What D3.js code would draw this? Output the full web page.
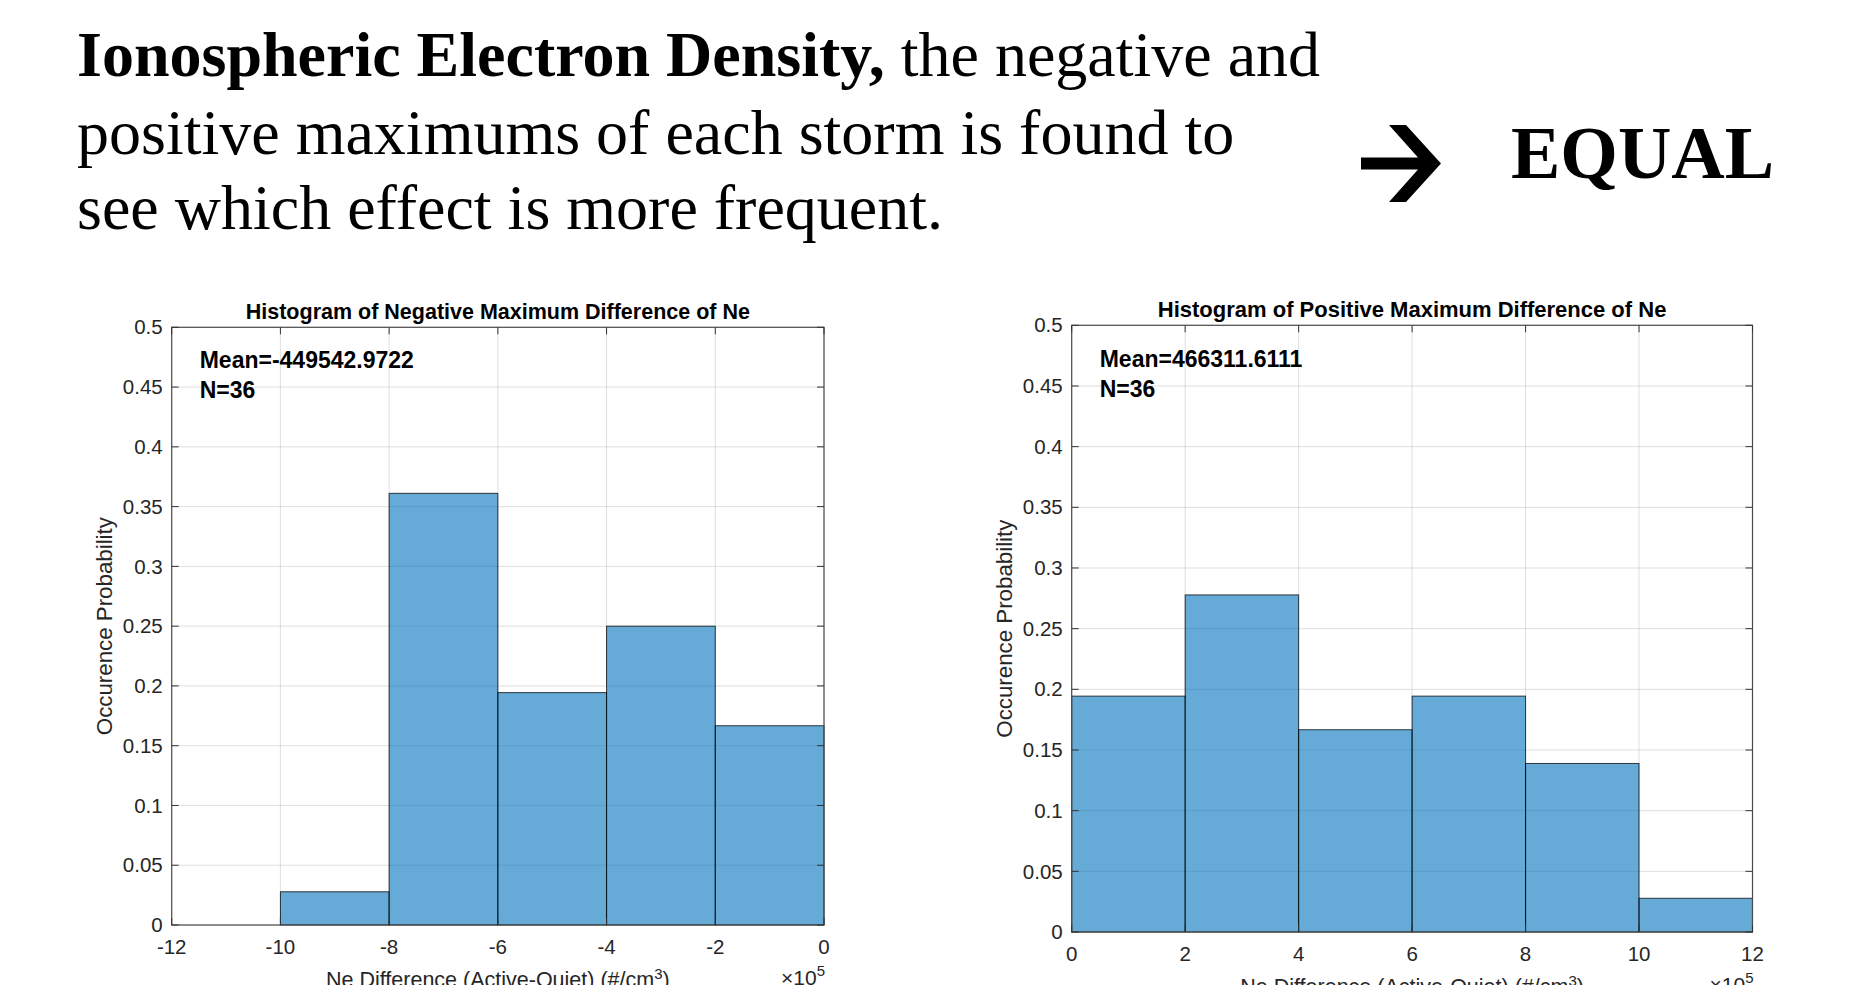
<!DOCTYPE html>
<html>
<head>
<meta charset="utf-8">
<script src="https://cdn.jsdelivr.net/npm/d3@7"></script>
<style>
  html, body { margin: 0; padding: 0; background: #fff; }
  svg { display: block; }
</style>
</head>
<body>
<script>
// ---------------- DATA ----------------
const headingBold = "Ionospheric Electron Density,";
const headingLines = [" the negative and", "positive maximums of each storm is found to", "see which effect is more frequent."];
const verdict = "EQUAL";

const negTitle = "Histogram of Negative Maximum Difference of Ne";
const negBinEdges = [-12, -10, -8, -6, -4, -2, 0];
const negProb = [0, 0.0278, 0.3611, 0.1944, 0.25, 0.1667];
const negXTicks = [-12, -10, -8, -6, -4, -2, 0];
const negMean = "Mean=-449542.9722";
const negN = "N=36";

const posTitle = "Histogram of Positive Maximum Difference of Ne";
const posBinEdges = [0, 2, 4, 6, 8, 10, 12];
const posProb = [0.1944, 0.2778, 0.1667, 0.1944, 0.1389, 0.0278];
const posXTicks = [0, 2, 4, 6, 8, 10, 12];
const posMean = "Mean=466311.6111";
const posN = "N=36";

const yTicks = [0, 0.05, 0.1, 0.15, 0.2, 0.25, 0.3, 0.35, 0.4, 0.45, 0.5];
const yTickLabels = ["0", "0.05", "0.1", "0.15", "0.2", "0.25", "0.3", "0.35", "0.4", "0.45", "0.5"];
const yLabel = "Occurence Probability";
const xLabel = "Ne Difference (Active-Quiet) (#/cm";

// ---------------- DRAW ----------------
const W = 1863, H = 985;
const svg = d3.select("body").append("svg").attr("width", W).attr("height", H);
svg.append("rect").attr("width", W).attr("height", H).attr("fill", "#fff");

const serif = "'Liberation Serif', 'Times New Roman', serif";
const sans = "'Liberation Sans', Arial, sans-serif";

// heading text
const hFs = 64;
const h1 = svg.append("text").attr("x", 77).attr("y", 76)
  .attr("font-family", serif).attr("font-size", hFs).attr("fill", "#000");
h1.append("tspan").attr("font-weight", "bold").text(headingBold);
h1.append("tspan").text(headingLines[0]);
svg.append("text").attr("x", 77).attr("y", 154)
  .attr("font-family", serif).attr("font-size", hFs).attr("fill", "#000").text(headingLines[1]);
svg.append("text").attr("x", 77).attr("y", 229)
  .attr("font-family", serif).attr("font-size", hFs).attr("fill", "#000").text(headingLines[2]);

// arrow (graphic)
svg.append("path")
  .attr("d", "M1361,157.6 L1418,157.6 L1389,125 L1406,125 L1441,163.5 L1406,202 L1389,202 L1418,169.4 L1361,169.4 Z")
  .attr("fill", "#000");

svg.append("text").attr("x", 1511).attr("y", 178)
  .attr("font-family", serif).attr("font-size", 74).attr("font-weight", "bold")
  .attr("fill", "#000").text(verdict);

function drawHist(o) {
  const x = d3.scaleLinear().domain(o.xDomain).range([o.x0, o.x1]);
  const y = d3.scaleLinear().domain([0, 0.5]).range([o.yBot, o.yTop]);
  const g = svg.append("g");
  const tc = "#262626";

  // grid
  g.append("g").selectAll("line").data(o.xTicks).join("line")
    .attr("x1", d => x(d)).attr("x2", d => x(d)).attr("y1", o.yTop).attr("y2", o.yBot)
    .attr("stroke", tc).attr("stroke-opacity", 0.15).attr("stroke-width", 1);
  g.append("g").selectAll("line").data(yTicks).join("line")
    .attr("x1", o.x0).attr("x2", o.x1).attr("y1", d => y(d)).attr("y2", d => y(d))
    .attr("stroke", tc).attr("stroke-opacity", 0.15).attr("stroke-width", 1);

  // bars
  const bins = o.prob.map((v, i) => ({ a: o.edges[i], b: o.edges[i + 1], v }));
  g.append("g").selectAll("rect").data(bins).join("rect")
    .attr("x", d => x(d.a)).attr("width", d => x(d.b) - x(d.a))
    .attr("y", d => y(d.v)).attr("height", d => y(0) - y(d.v))
    .attr("fill", "#0072BD").attr("fill-opacity", 0.6)
    .attr("stroke", "#000").attr("stroke-opacity", 0.75).attr("stroke-width", 1);

  // box
  g.append("rect").attr("x", o.x0).attr("y", o.yTop)
    .attr("width", o.x1 - o.x0).attr("height", o.yBot - o.yTop)
    .attr("fill", "none").attr("stroke", "#4d4d4d").attr("stroke-width", 1.2);

  // ticks (inside, all four sides)
  const tl = 7;
  const tk = g.append("g").attr("stroke", "#333").attr("stroke-width", 1);
  o.xTicks.forEach(d => {
    tk.append("line").attr("x1", x(d)).attr("x2", x(d)).attr("y1", o.yBot).attr("y2", o.yBot - tl);
    tk.append("line").attr("x1", x(d)).attr("x2", x(d)).attr("y1", o.yTop).attr("y2", o.yTop + tl);
  });
  yTicks.forEach(d => {
    tk.append("line").attr("x1", o.x0).attr("x2", o.x0 + tl).attr("y1", y(d)).attr("y2", y(d));
    tk.append("line").attr("x1", o.x1).attr("x2", o.x1 - tl).attr("y1", y(d)).attr("y2", y(d));
  });

  // tick labels
  g.append("g").selectAll("text").data(o.xTicks).join("text")
    .attr("x", d => x(d)).attr("y", o.yBot + 29)
    .attr("text-anchor", "middle").attr("font-family", sans).attr("font-size", 20.5)
    .attr("fill", tc).text(d => d3.format("d")(d).replace("\u2212", "-"));
  g.append("g").selectAll("text").data(yTicks).join("text")
    .attr("x", o.x0 - 9).attr("y", d => y(d)).attr("dy", "0.35em")
    .attr("text-anchor", "end").attr("font-family", sans).attr("font-size", 20.5)
    .attr("fill", tc).text((d, i) => yTickLabels[i]);

  // y label
  g.append("text")
    .attr("transform", `translate(${o.x0 - 68},${(o.yTop + o.yBot) / 2}) rotate(-90)`)
    .attr("dy", "0.35em").attr("text-anchor", "middle")
    .attr("font-family", sans).attr("font-size", 22.3).attr("fill", tc).text(yLabel);

  // title
  g.append("text").attr("x", (o.x0 + o.x1) / 2).attr("y", o.yTop - 8)
    .attr("text-anchor", "middle").attr("font-family", sans).attr("font-weight", "bold")
    .attr("font-size", o.titleFs).attr("fill", "#000").text(o.title);

  // annotations
  g.append("text").attr("x", o.x0 + 28).attr("y", o.meanY)
    .attr("font-family", sans).attr("font-weight", "bold").attr("font-size", 23)
    .attr("fill", "#000").text(o.mean);
  g.append("text").attr("x", o.x0 + 28).attr("y", o.meanY + 30)
    .attr("font-family", sans).attr("font-weight", "bold").attr("font-size", 23)
    .attr("fill", "#000").text(o.n);

  // x label (partially off-canvas as in the reference)
  const xl = g.append("text").attr("x", (o.x0 + o.x1) / 2).attr("y", o.yBot + 62)
    .attr("text-anchor", "middle").attr("font-family", sans).attr("font-size", 21.5).attr("fill", tc);
  xl.append("tspan").text(xLabel);
  xl.append("tspan").attr("dy", -8).attr("font-size", 15).text("3");
  xl.append("tspan").attr("dy", 8).text(")");

  const ex = g.append("text").attr("x", o.x1 + 1).attr("y", o.yBot + 60)
    .attr("text-anchor", "end").attr("font-family", sans).attr("font-size", 21).attr("fill", tc);
  ex.append("tspan").text("\u00d710");
  ex.append("tspan").attr("dy", -9).attr("font-size", 15).text("5");
}

drawHist({
  title: negTitle, titleFs: 21.5, edges: negBinEdges, prob: negProb, xTicks: negXTicks, xDomain: [-12, 0],
  mean: negMean, n: negN,
  x0: 171.7, x1: 824, yTop: 327.3, yBot: 925, meanY: 368
});
drawHist({
  title: posTitle, titleFs: 22, edges: posBinEdges, prob: posProb, xTicks: posXTicks, xDomain: [0, 12],
  mean: posMean, n: posN,
  x0: 1071.7, x1: 1752.5, yTop: 325.3, yBot: 932, meanY: 367
});
</script>
</body>
</html>
